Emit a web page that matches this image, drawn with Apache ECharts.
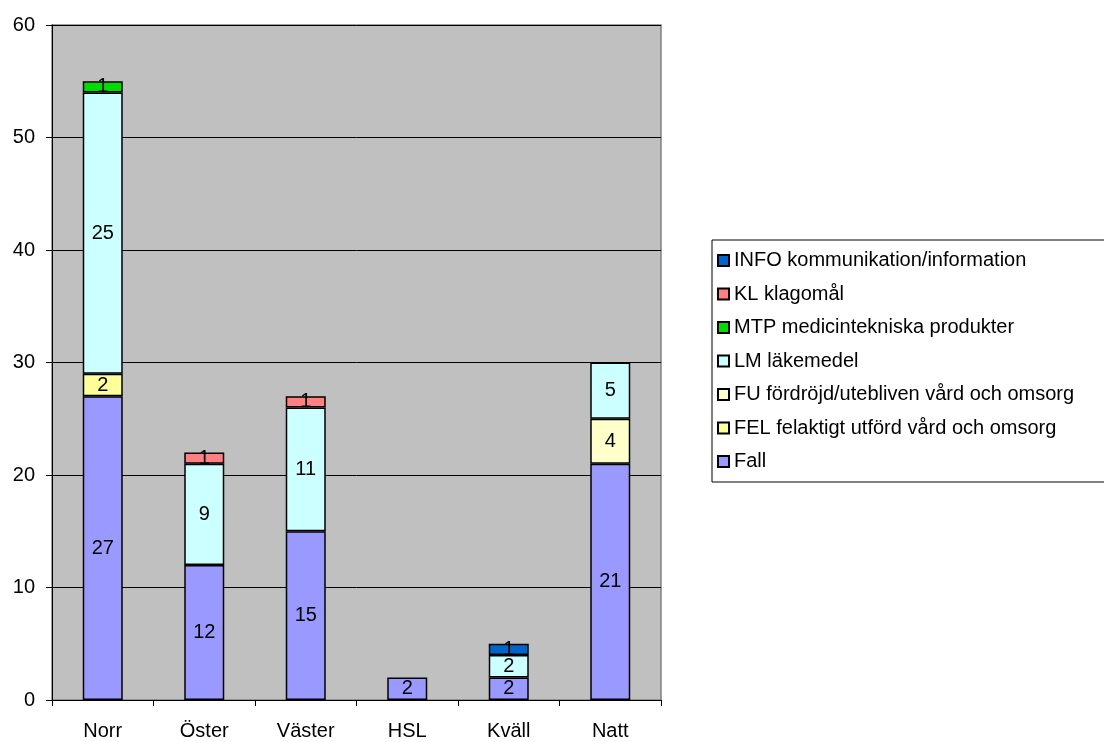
<!DOCTYPE html>
<html><head><meta charset="utf-8">
<script src="https://cdn.jsdelivr.net/npm/echarts@6/dist/echarts.min.js"></script>
<style>html,body{margin:0;padding:0;background:#fff}#c{width:1104px;height:742px}</style>
</head><body><div id="c"></div>
<script>
const categories = ['Norr', 'Öster', 'Väster', 'HSL', 'Kväll', 'Natt'];
const fall = [27, 12, 15, 2, 2, 21];
const fel  = [2, null, null, null, null, null];
const fu   = [null, null, null, null, null, 4];
const lm   = [25, 9, 11, null, 2, 5];
const mtp  = [1, null, null, null, null, null];
const kl   = [null, 1, 1, null, null, null];
const info = [null, null, null, null, 1, null];
const yTicks = [0, 10, 20, 30, 40, 50, 60];

const seriesDefs = [
  ['Fall', fall, '#9999ff'],
  ['FEL felaktigt utförd vård och omsorg', fel, '#ffff99'],
  ['FU fördröjd/utebliven vård och omsorg', fu, '#ffffcc'],
  ['LM läkemedel', lm, '#ccffff'],
  ['MTP medicintekniska produkter', mtp, '#00dd00'],
  ['KL klagomål', kl, '#ff8080'],
  ['INFO kommunikation/information', info, '#0066cc']
];
const font = 'Liberation Sans, Arial, sans-serif';
const chart = echarts.init(document.getElementById('c'));
chart.setOption({
  animation: false,
  backgroundColor: '#ffffff',
  grid: { left: 52, top: 25, width: 609, height: 675, show: true, backgroundColor: '#c0c0c0', borderColor: '#808080', borderWidth: 1.5 },
  legend: {
    orient: 'vertical', left: 712, top: 240,
    data: seriesDefs.map(s => s[0]).reverse(),
    itemWidth: 11, itemHeight: 11, itemGap: 10.5,
    padding: [9, 40, 9, 5],
    borderColor: '#000', borderWidth: 1, backgroundColor: '#fff',
    textStyle: { fontFamily: font, fontSize: 20, color: '#000', lineHeight: 23 },
    icon: 'rect'
  },
  xAxis: {
    type: 'category', data: categories,
    axisLine: { lineStyle: { color: '#000', width: 1 } },
    axisTick: { show: true, length: 6, lineStyle: { color: '#000' } },
    axisLabel: { fontFamily: font, fontSize: 20, color: '#000', margin: 21 }
  },
  yAxis: {
    type: 'value', min: yTicks[0], max: yTicks[yTicks.length - 1], interval: 10,
    axisLine: { show: true, lineStyle: { color: '#000' } },
    axisTick: { show: true, length: 6, lineStyle: { color: '#000' } },
    axisLabel: { fontFamily: font, fontSize: 20, color: '#000', margin: 17 },
    splitLine: { lineStyle: { color: '#000', width: 1 } }
  },
  series: seriesDefs.map(([name, data, color]) => ({
    name, type: 'bar', stack: 'all', data, barWidth: 40,
    itemStyle: { color, borderColor: '#000', borderWidth: 1.5 },
    label: { show: true, position: 'inside', fontFamily: font, fontSize: 20, color: '#000' }
  }))
});
</script></body></html>
